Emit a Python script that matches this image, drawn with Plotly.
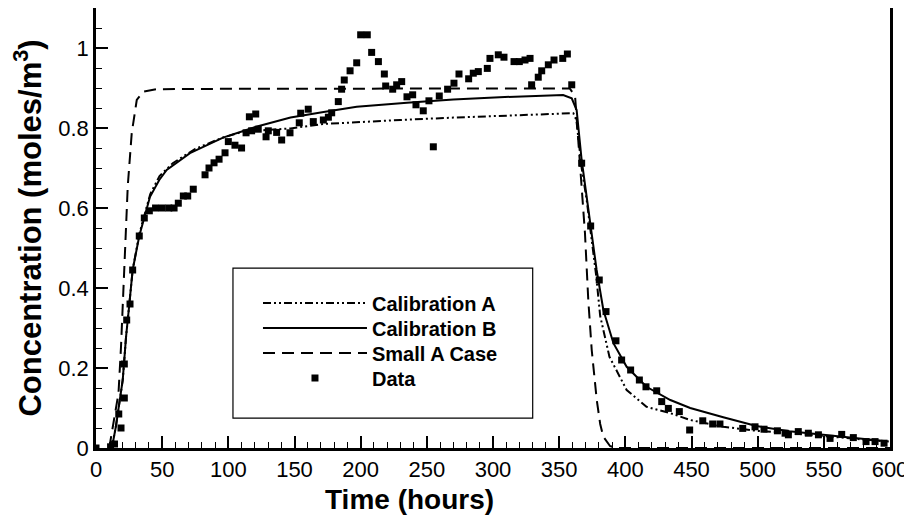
import plotly.graph_objects as go

# ---------------- data ----------------
data_x = [0, 11, 14, 17.2, 18.9, 21.4, 21.4, 23.2, 25.7, 27.7, 32.7, 36.5, 40.3, 45, 50, 55, 59,
          62.2, 66, 69.3, 73.5, 82.4, 85.4, 89.2, 93, 97.5, 100, 105, 110, 113.4, 115.9, 117.6,
          120.7, 122.6, 128.5, 130.2, 136.5, 140.3, 146.6, 153.6, 154.7, 160.4, 164.2, 171.8,
          175.6, 178.1, 183.1, 185.6, 187.6, 192, 197, 200, 205, 208.3, 213.4, 217.9, 218.9,
          224.2, 227.2, 231, 235, 239.3, 241.8, 247.3, 251.6, 254.9, 259.4, 265.7, 270.5, 274.3,
          281.6, 285.1, 288.9, 295.7, 297.7, 304, 308.3, 315.9, 319.9, 324.2, 328, 329.2, 334.2,
          336.8, 341.8, 346.1, 352.7, 356.2, 359.5, 367, 373.8, 380.3, 385.4, 392.9, 397.2, 404,
          410.6, 415.6, 423.7, 427.5, 432.5, 440.8, 448.6, 458.5, 466, 471.5, 488.7, 498, 504.8,
          514.9, 520.7, 523.2, 530.7, 538.3, 545.9, 554.7, 563.5, 572.3, 581.9, 588.7, 595.5]
data_y = [0, 0.003, 0.01, 0.085, 0.05, 0.125, 0.21, 0.32, 0.36, 0.445, 0.53, 0.575, 0.593, 0.60,
          0.60, 0.60, 0.60, 0.612, 0.63, 0.63, 0.647, 0.683, 0.70, 0.713, 0.722, 0.738, 0.766,
          0.757, 0.75, 0.788, 0.828, 0.793, 0.835, 0.797, 0.778, 0.793, 0.789, 0.77, 0.788,
          0.813, 0.837, 0.847, 0.816, 0.82, 0.827, 0.838, 0.866, 0.897, 0.92, 0.943, 0.963,
          1.033, 1.033, 0.989, 0.966, 0.935, 0.905, 0.897, 0.908, 0.916, 0.878, 0.883, 0.858,
          0.843, 0.868, 0.753, 0.88, 0.897, 0.912, 0.935, 0.923, 0.937, 0.941, 0.949, 0.974,
          0.983, 0.977, 0.966, 0.966, 0.97, 0.974, 0.908, 0.927, 0.943, 0.958, 0.97, 0.974,
          0.985, 0.908, 0.712, 0.555, 0.42, 0.341, 0.268, 0.22, 0.195, 0.17, 0.153, 0.143, 0.116,
          0.099, 0.091, 0.045, 0.068, 0.06, 0.06, 0.049, 0.053, 0.047, 0.043, 0.037, 0.033,
          0.041, 0.037, 0.033, 0.024, 0.034, 0.026, 0.016, 0.016, 0.012]

calB_x = [12, 15, 20.2, 22.7, 25.2, 27.7, 32.7, 37.8, 40.8, 47.8, 53.4, 71, 96, 121, 147, 172,
          197, 235, 270, 305, 335, 353, 359.5, 363.2, 367, 370.8, 373.8, 378.3, 383.4, 391, 401,
          416, 434, 449, 474, 499, 524, 550, 575, 599]
calB_y = [0, 0.053, 0.17, 0.278, 0.36, 0.445, 0.53, 0.595, 0.628, 0.67, 0.695, 0.737, 0.776,
          0.803, 0.826, 0.84, 0.853, 0.863, 0.871, 0.877, 0.881, 0.8825, 0.874, 0.845, 0.72,
          0.628, 0.555, 0.445, 0.345, 0.262, 0.203, 0.153, 0.12, 0.1, 0.077, 0.055, 0.042,
          0.033, 0.024, 0.016]

calA_x = [12, 15, 20.2, 22.7, 25.2, 27.7, 32.7, 37.8, 41, 48, 58, 75, 95, 111, 147, 172, 197,
          230, 270, 305, 340, 360.7, 363, 367, 370.8, 373.8, 378, 381, 388, 401, 416, 434, 449,
          474, 499, 524, 550, 575, 599]
calA_y = [0, 0.053, 0.17, 0.278, 0.36, 0.445, 0.535, 0.6, 0.635, 0.68, 0.712, 0.748, 0.775,
          0.791, 0.799, 0.81, 0.815, 0.82, 0.826, 0.83, 0.834, 0.837, 0.82, 0.7, 0.62, 0.545,
          0.43, 0.33, 0.228, 0.145, 0.103, 0.087, 0.07, 0.053, 0.043, 0.037, 0.03, 0.022, 0.016]

smallA_x = [10, 17, 18.9, 20.6, 22.2, 24, 27, 30.8, 35.8, 45.8, 100, 200, 300, 358, 362, 365.7,
            369.5, 372, 374.6, 378.4, 381, 383.4, 388.4, 393, 600]
smallA_y = [0, 0.137, 0.253, 0.395, 0.503, 0.655, 0.787, 0.87, 0.891, 0.897, 0.898, 0.899,
            0.899, 0.899, 0.88, 0.703, 0.537, 0.37, 0.245, 0.12, 0.06, 0.028, 0.005, 0, 0]

x_ticks = list(range(0, 601, 50))
y_ticks = [0, 0.2, 0.4, 0.6, 0.8, 1]
y_tick_labels = ["0", "0.2", "0.4", "0.6", "0.8", "1"]

FONT = "Liberation Sans, Arial, Helvetica, sans-serif"

fig = go.Figure()
fig.add_trace(go.Scatter(x=calA_x, y=calA_y, mode="lines", name="<b>Calibration A</b>",
                         legend="legend",
                         line=dict(color="black", width=2, dash="8px,3px,2px,3px,2px,3px")))
fig.add_trace(go.Scatter(x=calB_x, y=calB_y, mode="lines", name="<b>Calibration B</b>",
                         legend="legend2",
                         line=dict(color="black", width=2)))
fig.add_trace(go.Scatter(x=smallA_x, y=smallA_y, mode="lines", name="<b>Small A Case</b>",
                         legend="legend3",
                         line=dict(color="black", width=2, dash="12px,7px")))
fig.add_trace(go.Scatter(x=data_x, y=data_y, mode="markers", name="<b>Data</b>",
                         legend="legend4",
                         marker=dict(symbol="square", size=7, color="black")))

# legend frame
fig.add_shape(type="rect", xref="paper", yref="paper",
              x0=0.1725, x1=0.550, y0=0.068, y1=0.409,
              line=dict(color="black", width=1.2), fillcolor="rgba(0,0,0,0)")

# x-axis title (placed left of centre, as in the reference)
fig.add_annotation(text="<b>Time (hours)</b>", xref="paper", yref="paper",
                   x=0.395, y=-0.118, xanchor="center", yanchor="middle",
                   showarrow=False, font=dict(family=FONT, size=28, color="black"))

def leg(yc):
    return dict(x=0.204, y=yc, xanchor="left", yanchor="middle",
                bgcolor="rgba(0,0,0,0)", borderwidth=0,
                font=dict(family=FONT, size=20, color="black"),
                itemwidth=104)

# page body has an 8px margin: compensate so the plot area lands where the reference has it
fig.update_layout(
    width=904, height=507,
    margin=dict(l=88, r=22, t=0, b=67),
    paper_bgcolor="white", plot_bgcolor="white",
    font=dict(family=FONT, color="black"),
    showlegend=True,
    legend=leg(0.3295), legend2=leg(0.2727), legend3=leg(0.2159), legend4=leg(0.1591),
    xaxis=dict(range=[0, 600], tickvals=x_ticks, ticktext=[str(v) for v in x_ticks],
               ticks="inside", ticklen=12, tickwidth=1.5, tickcolor="black",
               minor=dict(ticks="inside", ticklen=6, tickwidth=1, dtick=10, tickcolor="black"),
               showline=True, linewidth=2.5, linecolor="black", mirror=True,
               showgrid=False, zeroline=False, automargin=False,
               tickfont=dict(family=FONT, size=22)),
    yaxis=dict(range=[0, 1.1], tickvals=y_ticks, ticktext=y_tick_labels,
               ticks="inside", ticklen=12, tickwidth=1.5, tickcolor="black",
               minor=dict(ticks="inside", ticklen=6, tickwidth=1, dtick=0.05, tickcolor="black"),
               showline=True, linewidth=2.5, linecolor="black", mirror=True,
               showgrid=False, zeroline=False, automargin=False,
               tickfont=dict(family=FONT, size=22),
               title=dict(text="<b>Concentration (moles/m<sup>3</sup>)</b>",
                          font=dict(family=FONT, size=31), standoff=9)),
)

fig.write_html("out.html")
